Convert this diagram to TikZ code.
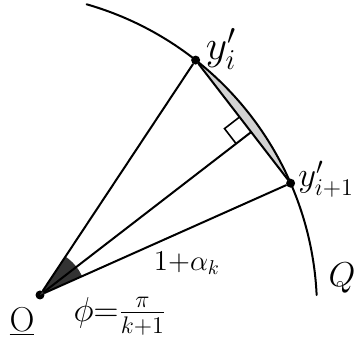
\documentclass[tikz,border=0pt]{standalone}
\usetikzlibrary{calc,positioning}

\begin{document}
\begin{tikzpicture}[
  x=0.5pt, y=0.5pt,
  stroke/.style={line width=1pt, line cap=round},
  dotpt/.style={circle, fill, inner sep=0pt, minimum size=4.5pt},
  lbl/.style={font=\LARGE, inner sep=1pt}
]
\useasboundingbox (0,0) rectangle (358,356);

% circle Q and points on it
\coordinate (ctr) at (-1,46);
\coordinate (qtop) at ($(ctr)+(74:318)$);
\node[dotpt] (O) at (40,61) {};
\node[dotpt] (yi) at ($(ctr)+(51.8:318)$) {};
\node[dotpt] (yii) at ($(ctr)+(23.5:318)$) {};

% segment between chord and arc
\fill[gray!35] (yi.center) arc[start angle=51.8, end angle=23.5, radius=318] -- cycle;

% angle at the origin
\fill[black!80] (O.center) -- ($(O.center)+(24:46)$) arc[start angle=24, end angle=56.5, radius=46] -- cycle;

\draw[stroke] (qtop) arc[start angle=74, end angle=2.7, radius=318];

\draw[stroke] (O) -- (yi);
\draw[stroke] (O) -- (yii);
\draw[stroke] (yi) -- (yii);

% foot of the perpendicular with right angle mark
\coordinate (F) at ($(yi.center)!(O.center)!(yii.center)$);
\draw[stroke] (O) -- (F);
\coordinate (ra1) at ($(F)!9.5pt!(yi.center)$);
\coordinate (ra3) at ($(F)!9.5pt!(O.center)$);
\draw[line width=0.8pt] (ra1) -- ($(ra1)+(ra3)-(F)$) -- (ra3);

% labels
\node[lbl, font=\huge] (lyi) at (221,307) {$y'_i$};
\node[lbl, inner sep=0pt, anchor=west] (lyii) at (298,177) {$y'_{i+1}$};
\node[lbl] (lO) at (22,34) {$\underline{\mathrm{O}}$};
\node[lbl] (lphi) at (120,40) {$\phi{=}\frac{\pi}{k+1}$};
\node[lbl, font=\Large] (lalpha) at (187,93) {$1{+}\alpha_k$};
\node[lbl] (lQ) at (342,78) {$Q$};

\end{tikzpicture}
\end{document}
